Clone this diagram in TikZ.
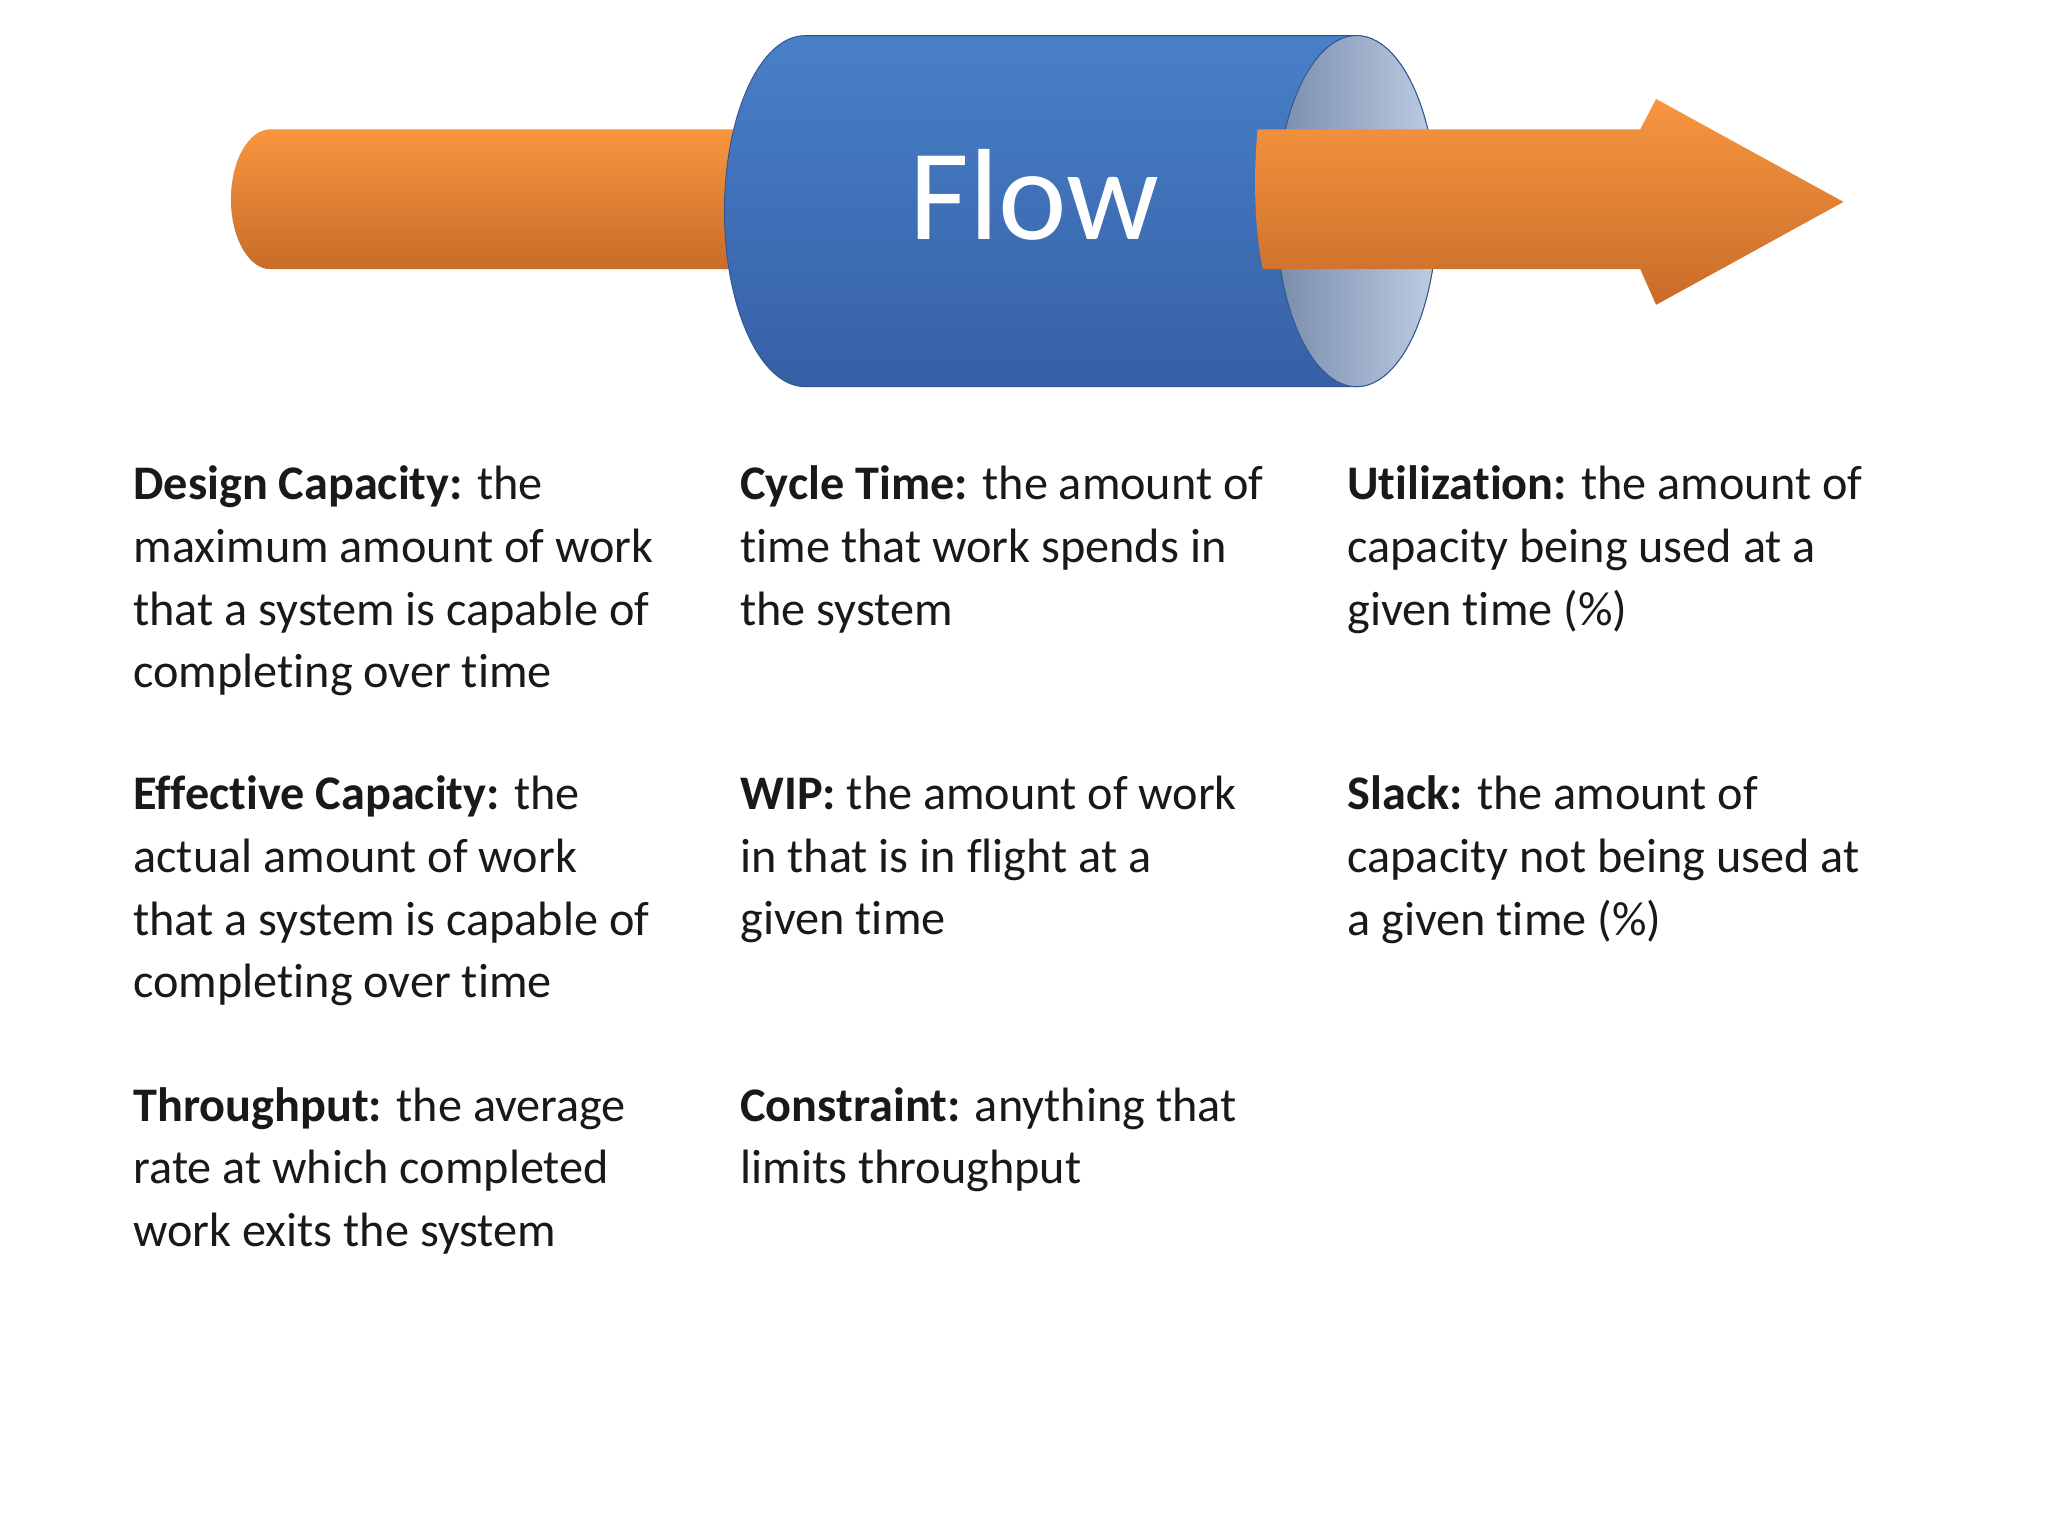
\documentclass[tikz,border=0pt]{standalone}
\usepackage{fontspec}
\setmainfont{Carlito}[Ligatures={NoCommon,NoContextual}]
\begin{document}
\begin{tikzpicture}[x=0.05cm,y=-0.05cm,
  txt/.style={anchor=north west,inner sep=0pt,align=left,
    font=\fontsize{52pt}{67.5pt}\selectfont,text=black!90}]
\useasboundingbox (0,0) rectangle (1552,1164);
\fill[white] (0,0) rectangle (1552,1164);
% left bar
\path[top color={rgb,255:red,248;green,150;blue,64},bottom color={rgb,255:red,200;green,108;blue,40}]
  (600,98) -- (205,98) arc[start angle=90,end angle=270,x radius=30,y radius=-53] -- (600,204) -- cycle;
% cylinder body
\path[top color={rgb,255:red,72;green,128;blue,200},bottom color={rgb,255:red,54;green,96;blue,166},draw={rgb,255:red,50;green,85;blue,145},line width=1pt]
  (1028,27) -- (610,27) arc[start angle=90,end angle=270,x radius=61,y radius=-133] -- (1028,293) arc[start angle=270,end angle=450,x radius=61,y radius=-133] -- cycle;
% right face
\path[left color={rgb,255:red,120;green,140;blue,170},right color={rgb,255:red,190;green,205;blue,228},draw={rgb,255:red,50;green,85;blue,145},line width=1pt]
  (1028,160) ellipse[x radius=61,y radius=133];
% right arrow
\path[top color={rgb,255:red,248;green,150;blue,64},bottom color={rgb,255:red,200;green,108;blue,40}]
  (953,98) -- (1243,98) -- (1255,75) -- (1397,153) -- (1255,231) -- (1243,204) -- (957,204)
  .. controls (950,170) and (950,130) .. (953,98) -- cycle;
\node[text=white,font=\fontsize{140pt}{140pt}\selectfont] (flow) at (784,148) {Flow};
% texts
\node[txt] (dc) at (101,353) {\textbf{Design Capacity:} the\\maximum amount of work\\that a system is capable of\\completing over time};
\node[txt] (ct) at (561,353) {\textbf{Cycle Time:} the amount of\\time that work spends in\\the system};
\node[txt] (ut) at (1021,353) {\textbf{Utilization:} the amount of\\capacity being used at a\\given time (\%)};
\node[txt] (ec) at (101,588) {\textbf{Effective Capacity:} the\\actual amount of work\\that a system is capable of\\completing over time};
\node[txt] (wip) at (561,588) {\textbf{WIP:} the amount of work\\in that is in flight at a\\given time};
\node[txt] (sl) at (1021,588) {\textbf{Slack:} the amount of\\capacity not being used at\\a given time (\%)};
\node[txt] (tp) at (101,824) {\textbf{Throughput:} the average\\rate at which completed\\work exits the system};
\node[txt] (co) at (561,824) {\textbf{Constraint:} anything that\\limits throughput};
\end{tikzpicture}
\end{document}
